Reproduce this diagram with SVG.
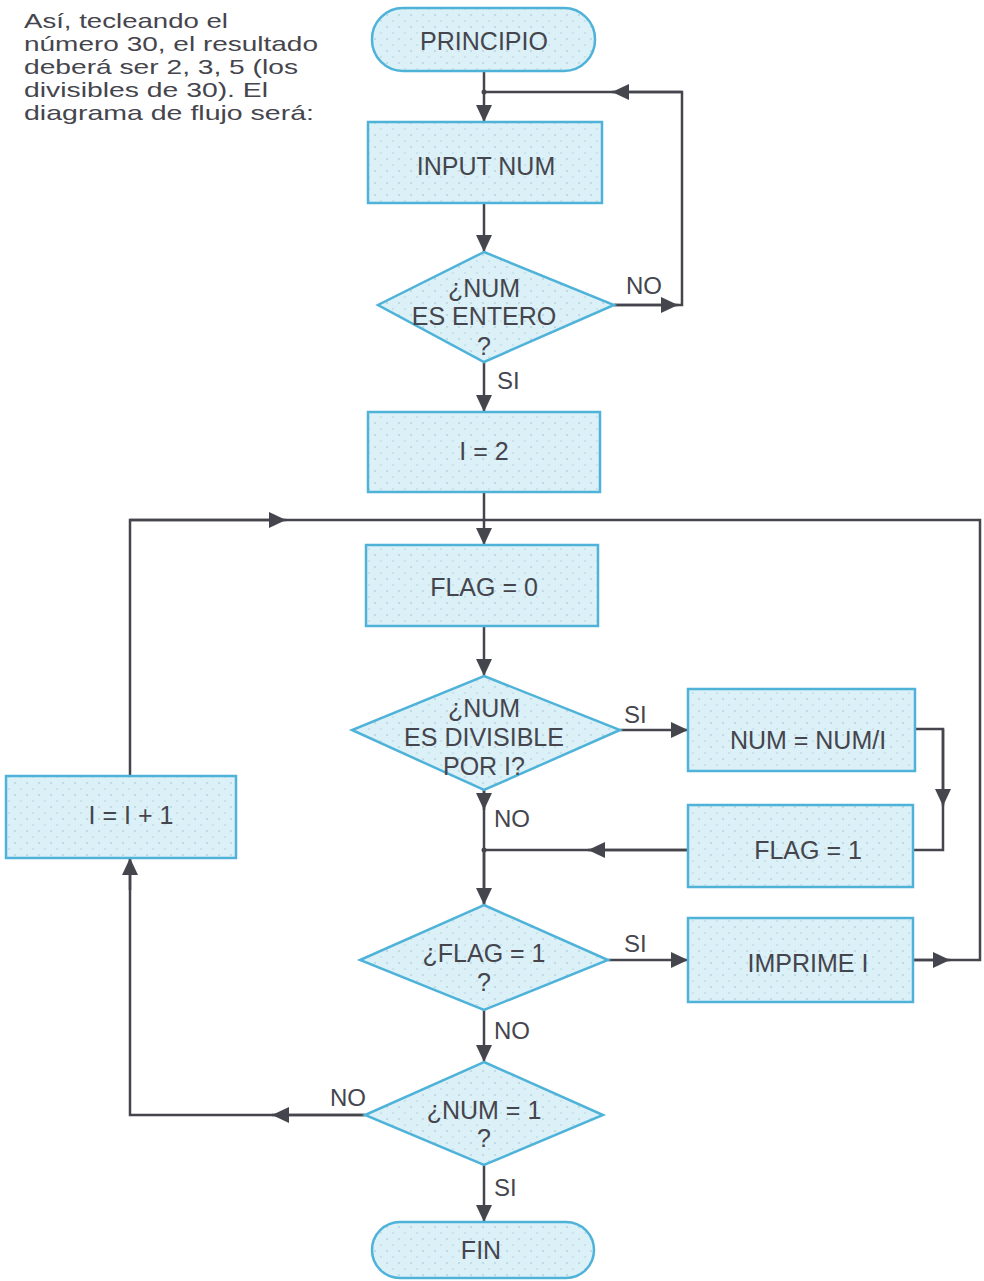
<svg xmlns="http://www.w3.org/2000/svg" width="984" height="1281" viewBox="0 0 984 1281">
<defs>
<pattern id="dots" width="12" height="12" patternUnits="userSpaceOnUse">
<rect width="12" height="12" fill="#dbf0f7"/>
<circle cx="3" cy="3" r="1.1" fill="#b9d6e0"/>
<circle cx="9" cy="9" r="1.1" fill="#c6dfe8"/>
</pattern>
<marker id="ah" markerUnits="userSpaceOnUse" markerWidth="18" markerHeight="16" refX="17" refY="8" orient="auto">
<path d="M0,0 L17,8 L0,16 z" fill="#45454d"/>
</marker>
</defs>
<style>
.box{fill:url(#dots);stroke:#4fb3d9;stroke-width:2.5}
.t{font-family:"Liberation Sans",Arial,sans-serif;font-size:25px;fill:#45454d;text-anchor:middle}
.lbl{font-family:"Liberation Sans",Arial,sans-serif;font-size:24px;fill:#45454d}
.para{font-family:"Liberation Sans",Arial,sans-serif;font-size:21px;fill:#45454d}
.c{fill:none;stroke:#45454d;stroke-width:2.5}
.a{fill:none;stroke:#45454d;stroke-width:2.5;marker-end:url(#ah)}
</style>
<rect width="984" height="1281" fill="#ffffff"/>

<g id="intro">
<text class="para" x="24" y="28" textLength="204" lengthAdjust="spacingAndGlyphs">Así, tecleando el</text>
<text class="para" x="24" y="51" textLength="294" lengthAdjust="spacingAndGlyphs">número 30, el resultado</text>
<text class="para" x="24" y="74" textLength="274" lengthAdjust="spacingAndGlyphs">deberá ser 2, 3, 5 (los</text>
<text class="para" x="24" y="97" textLength="244" lengthAdjust="spacingAndGlyphs">divisibles de 30). El</text>
<text class="para" x="24" y="120" textLength="290" lengthAdjust="spacingAndGlyphs">diagrama de flujo será:</text>
</g>

<g id="connectors">
<path class="a" d="M484,72 V122"/>
<path class="c" d="M614,305 H682 V92 H484"/>
<path class="a" d="M614,305 H678"/>
<path class="a" d="M682,92 H612"/>
<circle cx="484" cy="92" r="2.5" fill="#45454d"/>
<path class="a" d="M484,203 V252"/>
<path class="a" d="M484,362 V412"/>
<path class="a" d="M484,492 V545"/>
<path class="c" d="M130,776 V520 H980 V960 H913"/>
<path class="a" d="M130,520 H286"/>
<path class="a" d="M913,960 H950"/>
<path class="a" d="M484,626 V676"/>
<path class="a" d="M620,730 H688"/>
<path class="c" d="M915,729 H943 V850 H913"/>
<path class="a" d="M943,729 V806"/>
<path class="c" d="M688,850 H484"/>
<path class="a" d="M688,850 H588"/>
<path class="c" d="M484,790 V905"/>
<path class="a" d="M484,790 V810"/>
<path class="a" d="M484,850 V905"/>
<circle cx="484" cy="850" r="2.5" fill="#45454d"/>
<path class="a" d="M608,960 H688"/>
<path class="a" d="M484,1010 V1062"/>
<path class="c" d="M365,1115 H130 V858"/>
<path class="a" d="M365,1115 H272"/>
<path class="a" d="M130,890 V858"/>
<path class="a" d="M484,1165 V1222"/>
<text class="lbl" x="626" y="294">NO</text>
<text class="lbl" x="497" y="389">SI</text>
<text class="lbl" x="624" y="723">SI</text>
<text class="lbl" x="494" y="827">NO</text>
<text class="lbl" x="624" y="952">SI</text>
<text class="lbl" x="494" y="1039">NO</text>
<text class="lbl" x="330" y="1106">NO</text>
<text class="lbl" x="494" y="1196">SI</text>
</g>

<g id="principio">
<rect class="box" x="372" y="8" width="223" height="63" rx="31"/>
<text class="t" x="484" y="50">PRINCIPIO</text>
</g>
<g id="input-num">
<rect class="box" x="368" y="122" width="234" height="81"/>
<text class="t" x="486" y="175">INPUT NUM</text>
</g>
<g id="es-entero">
<polygon class="box" points="484,252 614,305 484,362 378,305"/>
<text class="t" x="484" y="297">¿NUM</text>
<text class="t" x="484" y="325">ES ENTERO</text>
<text class="t" x="484" y="355">?</text>
</g>
<g id="i-2">
<rect class="box" x="368" y="412" width="232" height="80"/>
<text class="t" x="484" y="460">I = 2</text>
</g>
<g id="flag-0">
<rect class="box" x="366" y="545" width="232" height="81"/>
<text class="t" x="484" y="596">FLAG = 0</text>
</g>
<g id="es-divisible">
<polygon class="box" points="484,676 620,730 484,790 352,730"/>
<text class="t" x="484" y="717">¿NUM</text>
<text class="t" x="484" y="746">ES DIVISIBLE</text>
<text class="t" x="484" y="775">POR I?</text>
</g>
<g id="num-div">
<rect class="box" x="688" y="689" width="227" height="82"/>
<text class="t" x="808" y="749">NUM = NUM/I</text>
</g>
<g id="flag-1">
<rect class="box" x="688" y="805" width="225" height="82"/>
<text class="t" x="808" y="859">FLAG = 1</text>
</g>
<g id="flag-check">
<polygon class="box" points="484,905 608,960 484,1010 360,960"/>
<text class="t" x="484" y="962">¿FLAG = 1</text>
<text class="t" x="484" y="991">?</text>
</g>
<g id="imprime">
<rect class="box" x="688" y="918" width="225" height="84"/>
<text class="t" x="808" y="972">IMPRIME I</text>
</g>
<g id="i-inc">
<rect class="box" x="6" y="776" width="230" height="82"/>
<text class="t" x="131" y="824">I = I + 1</text>
</g>
<g id="num-1">
<polygon class="box" points="484,1062 603,1115 484,1165 365,1115"/>
<text class="t" x="484" y="1119">¿NUM = 1</text>
<text class="t" x="484" y="1147">?</text>
</g>
<g id="fin">
<rect class="box" x="372" y="1222" width="222" height="56" rx="28"/>
<text class="t" x="481" y="1259">FIN</text>
</g>
</svg>
